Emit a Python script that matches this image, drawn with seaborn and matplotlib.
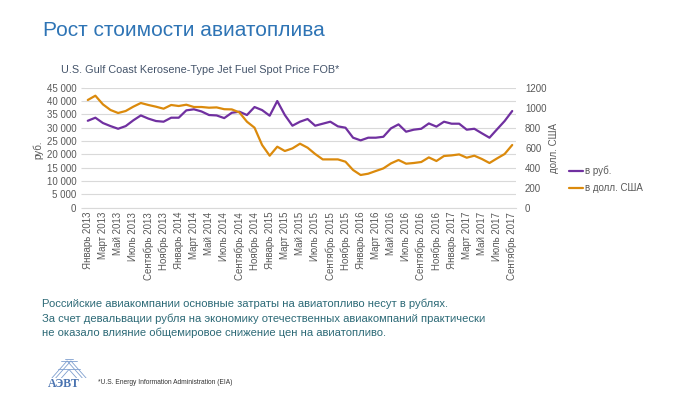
import matplotlib
matplotlib.use('Agg')
import pandas as pd
import seaborn as sns
import matplotlib.pyplot as plt
from matplotlib.ticker import FixedLocator, FuncFormatter
from matplotlib.lines import Line2D

# monthly series, Jan 2013 - Sep 2017
month_names = ['Январь', 'Февраль', 'Март', 'Апрель', 'Май', 'Июнь',
               'Июль', 'Август', 'Сентябрь', 'Октябрь', 'Ноябрь', 'Декабрь']
start_year = 2013
rub = [32600, 33750, 31750, 30600, 29600, 30600, 32750, 34600, 33400, 32500,
       32250, 33750, 33750, 36500, 36900, 36100, 34750, 34600, 33600, 35600,
       36000, 34750, 37750, 36600, 34500, 40000, 34750, 30750, 32250, 33250,
       30750, 31500, 32250, 30500, 30000, 26250, 25250, 26250, 26250, 26600,
       29750, 31250, 28500, 29250, 29600, 31600, 30400, 32250, 31500, 31500,
       29250, 29600, 27900, 26250, 29400, 32500, 36250]
usd = [1077, 1120, 1033, 977, 947, 967, 1010, 1047, 1027, 1010,
       990, 1027, 1017, 1030, 1007, 1007, 1000, 1003, 985, 983,
       953, 860, 800, 627, 520, 610, 567, 593, 640, 600,
       537, 483, 483, 483, 460, 377, 327, 340, 367, 393,
       443, 477, 440, 447, 457, 503, 467, 517, 523, 533,
       500, 520, 487, 447, 493, 537, 627]
rub_ticks = list(range(0, 45001, 5000))
usd_ticks = list(range(0, 1201, 200))

title = 'Рост стоимости авиатоплива'
subtitle = 'U.S. Gulf Coast Kerosene-Type Jet Fuel Spot Price FOB*'
note_lines = ['Российские авиакомпании основные затраты на авиатопливо несут в рублях.',
              'За счет девальвации рубля на экономику отечественных авиакомпаний практически',
              'не оказало влияние общемировое снижение цен на авиатопливо.']
source = '*U.S. Energy Information Administration (EIA)'

labels = [f'{month_names[i % 12]} {start_year + i // 12}' for i in range(len(rub))]
df = pd.DataFrame({'m': range(len(rub)), 'rub': rub, 'usd': usd})

PURPLE = '#7030A0'
ORANGE = '#DB8A0C'
GREY = '#595959'
GRID = '#D9D9D9'

sns.set_style('white')
plt.rcParams['font.family'] = ['Liberation Sans', 'DejaVu Sans']

W, H = 700, 394
fig = plt.figure(figsize=(7, 3.94), dpi=100)
fig.patch.set_facecolor('white')


def fx(px):
    return px / W


def fy(py):
    return 1 - py / H


ax = fig.add_axes([fx(84), fy(207.7), 432 / W, 120 / H])
ax2 = ax.twinx()

sns.lineplot(data=df, x='m', y='rub', ax=ax, color=PURPLE, linewidth=1.6)
sns.lineplot(data=df, x='m', y='usd', ax=ax2, color=ORANGE, linewidth=1.6)

ax.set_xlim(-0.5, len(rub) - 0.5)
ax.set_ylim(0, 45000)
ax2.set_ylim(0, 1200)
ax.set_yticks(rub_ticks)
ax.yaxis.set_major_formatter(FuncFormatter(lambda v, p: f'{int(v):,}'.replace(',', ' ')))
ax2.set_yticks(usd_ticks)

ax.set_xticks(range(0, len(rub), 2))
ax.set_xticklabels(labels[::2], rotation=90)
ax.xaxis.set_minor_locator(FixedLocator([i - 0.5 for i in range(0, len(rub) + 1, 2)]))

ax.yaxis.grid(True, color=GRID, linewidth=0.8)
ax.set_axisbelow(True)
for a in (ax, ax2):
    for s in a.spines.values():
        s.set_visible(False)
ax.spines['bottom'].set_visible(True)
ax.spines['bottom'].set_color(GRID)

ax.tick_params(axis='x', which='major', length=0, pad=3, labelsize=7, labelcolor=GREY)
ax.tick_params(axis='x', which='minor', length=3.5, color=GRID, width=0.8)
ax.tick_params(axis='y', length=2.5, color=GRID, pad=3, labelsize=7, labelcolor=GREY)
ax2.tick_params(axis='y', length=0, pad=6.5, labelsize=7, labelcolor=GREY)

ax.set_xlabel('')
ax.set_ylabel('руб.', fontsize=7, color=GREY)
ax.yaxis.set_label_coords(-0.095, 0.48)
ax2.set_ylabel('долл. США', fontsize=7, color=GREY)
ax2.yaxis.set_label_coords(1.076, 0.5)

handles = [Line2D([], [], color=PURPLE, lw=1.6), Line2D([], [], color=ORANGE, lw=1.6)]
fig.legend(handles, ['в руб.', 'в долл. США'], loc='upper left',
           bbox_to_anchor=(fx(560), fy(157)), frameon=False, fontsize=7,
           handlelength=1.5, handletextpad=0.2, labelspacing=0.7,
           labelcolor=GREY)

fig.text(fx(43), fy(31), title, fontsize=15, color='#2E74B5', va='center')
fig.text(fx(61), fy(70), subtitle, fontsize=7.8, color='#44546A', va='center')
for i, line in enumerate(note_lines):
    fig.text(fx(42), fy(304 + 14.3 * i), line, fontsize=8.1, color='#2D6A77',
             va='center')
fig.text(fx(98), fy(383), source, fontsize=4.8, color='#333333', va='center')

# logo
fig.text(fx(48), fy(384), 'АЭВТ', fontsize=8.5, color='#4A73B0',
         family=['Liberation Serif', 'DejaVu Serif'], weight='bold', va='center')
lg = fig.add_axes([fx(50), fy(378), 38 / W, 19 / H])
lg.set_xlim(0, 1)
lg.set_ylim(0, 1)
lg.axis('off')
lc = '#7F9FCF'
for xs, ys in [([0.05, 0.45, 0.85], [0.0, 0.9, 0.0]),
               ([0.15, 0.55, 0.95], [0.0, 0.9, 0.0]),
               ([0.3, 0.5, 0.7], [0.0, 0.45, 0.0]),
               ([0.2, 0.8], [0.45, 0.45]),
               ([0.3, 0.7], [0.9, 0.9]),
               ([0.4, 0.6], [1.0, 1.0])]:
    lg.plot(xs, ys, color=lc, lw=0.6)

fig.savefig('out.png', dpi=100, facecolor='white')
